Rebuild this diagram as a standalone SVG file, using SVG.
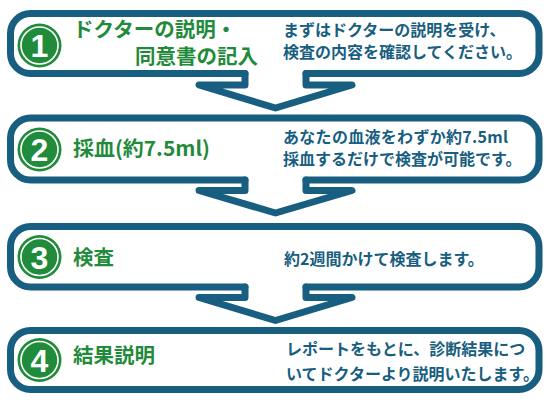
<svg xmlns="http://www.w3.org/2000/svg" width="550" height="411" viewBox="0 0 550 411">
<defs>
<style>
.frame{fill:none;stroke:#175e80;stroke-width:7;stroke-linecap:round;stroke-linejoin:round}
.title{font-family:"Noto Sans CJK JP","Noto Sans CJK SC",sans-serif;font-weight:700;font-size:20.5px;fill:#1f8b3b}
.desc{font-family:"Noto Sans CJK JP","Noto Sans CJK SC",sans-serif;font-weight:700;font-size:16px;fill:#175e80}
.disc{fill:#1f8b3b}
.ring{fill:none;stroke:#fff;stroke-width:1.6}
.num{font-family:"Liberation Sans",Arial,sans-serif;font-weight:700;font-size:32px;fill:#fff;text-anchor:middle}
</style>
</defs>
<rect width="550" height="411" fill="#fff"/>
<g id="node1">
<path class="frame" d="M306,73.5 H519 A20,20 0 0 0 539,53.5 V33.5 A20,20 0 0 0 519,13.5 H30.5 A20,20 0 0 0 10.5,33.5 V53.5 A20,20 0 0 0 30.5,73.5 H245"/>
<circle class="disc" cx="39.5" cy="45.5" r="22"/>
<circle class="ring" cx="39.5" cy="45.5" r="18.5"/>
<text class="num" x="39.5" y="57">1</text>
<text class="title" x="73" y="37">ドクターの説明・</text>
<text class="title" x="135" y="64">同意書の記入</text>
<text class="desc" x="283" y="36">まずはドクターの説明を受け、</text>
<text class="desc" x="283" y="58">検査の内容を確認してください。</text>
</g>
<g id="node2">
<path class="frame" d="M306,180 H519 A20,20 0 0 0 539,160 V138 A20,20 0 0 0 519,118 H30.5 A20,20 0 0 0 10.5,138 V160 A20,20 0 0 0 30.5,180 H245"/>
<circle class="disc" cx="39.5" cy="149.5" r="22"/>
<circle class="ring" cx="39.5" cy="149.5" r="18.5"/>
<text class="num" x="39.5" y="161">2</text>
<text class="title" x="73" y="156" textLength="137" lengthAdjust="spacingAndGlyphs">採血(約7.5ml)</text>
<text class="desc" x="283" y="143" textLength="225" lengthAdjust="spacing">あなたの血液をわずか約7.5ml</text>
<text class="desc" x="283" y="165">採血するだけで検査が可能です。</text>
</g>
<g id="node3">
<path class="frame" d="M306,287 H519 A20,20 0 0 0 539,267 V246.5 A20,20 0 0 0 519,226.5 H30.5 A20,20 0 0 0 10.5,246.5 V267 A20,20 0 0 0 30.5,287 H245"/>
<circle class="disc" cx="39.5" cy="257" r="22"/>
<circle class="ring" cx="39.5" cy="257" r="18.5"/>
<text class="num" x="39.5" y="268.5">3</text>
<text class="title" x="73" y="265">検査</text>
<text class="desc" x="284" y="265">約2週間かけて検査します。</text>
</g>
<g id="node4">
<path class="frame" d="M30.5,389.5 H519 A20,20 0 0 0 539,369.5 V350.5 A20,20 0 0 0 519,330.5 H30.5 A20,20 0 0 0 10.5,350.5 V369.5 A20,20 0 0 0 30.5,389.5 Z"/>
<circle class="disc" cx="39.5" cy="360" r="22"/>
<circle class="ring" cx="39.5" cy="360" r="18.5"/>
<text class="num" x="39.5" y="371.5">4</text>
<text class="title" x="73" y="363">結果説明</text>
<text class="desc" x="286" y="355" font-size="16.5">レポートをもとに、診断結果につ</text>
<text class="desc" x="286" y="380">いてドクターより説明いたします。</text>
</g>
<g id="connectors">
<path class="frame" d="M245,73.5 V85 H199 L275.5,108 L352,85 H306 V73.5"/>
<path class="frame" d="M245,180 V190.5 H199 L275.5,213 L352,190.5 H306 V180"/>
<path class="frame" d="M245,287 V297.5 H199 L275.5,320.5 L352,297.5 H306 V287"/>
</g>
</svg>
